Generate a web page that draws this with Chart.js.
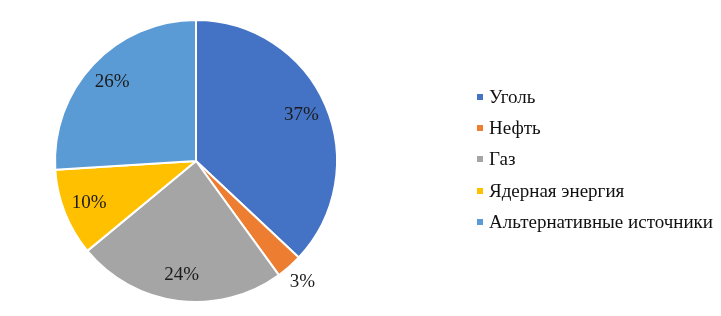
<!DOCTYPE html>
<html><head><meta charset="utf-8">
<script src="https://cdn.jsdelivr.net/npm/chart.js@4"></script>
<style>html,body{margin:0;padding:0;background:#fff}#wrap{width:721px;height:316px;position:relative}</style>
</head><body><div id="wrap"><canvas id="c" width="721" height="316"></canvas></div>
<script>
const categories = ['Уголь', 'Нефть', 'Газ', 'Ядерная энергия', 'Альтернативные источники'];
const shares = [37, 3, 24, 10, 26];
const colors = ['#4472C4', '#ED7D31', '#A5A5A5', '#FFC000', '#5B9BD5'];
const FONT = '"Liberation Serif","Times New Roman",serif';

const pctLabels = {
  id: 'pctLabels',
  afterDatasetsDraw(chart) {
    const ctx = chart.ctx;
    const meta = chart.getDatasetMeta(0);
    ctx.save();
    ctx.font = '19px ' + FONT;
    ctx.fillStyle = '#1b1b1b';
    ctx.textAlign = 'center';
    ctx.textBaseline = 'middle';
    meta.data.forEach((arc, i) => {
      const p = arc.getProps(['x', 'y', 'startAngle', 'endAngle', 'outerRadius'], true);
      const mid = (p.startAngle + p.endAngle) / 2;
      const f = shares[i] < 5 ? 1.14 : 0.815;
      ctx.fillText(shares[i] + '%', p.x + Math.cos(mid) * p.outerRadius * f, p.y + Math.sin(mid) * p.outerRadius * f);
    });
    ctx.restore();
  }
};

const sideLegend = {
  id: 'sideLegend',
  afterDraw(chart) {
    const ctx = chart.ctx;
    ctx.save();
    ctx.font = '19px ' + FONT;
    ctx.textBaseline = 'middle';
    ctx.textAlign = 'left';
    categories.forEach((name, i) => {
      const y = 97 + i * 31.2;
      ctx.fillStyle = colors[i];
      ctx.fillRect(477, Math.round(y) - 3, 6, 6);
      ctx.fillStyle = '#111';
      ctx.fillText(name, 489, y + 1);
    });
    ctx.restore();
  }
};

new Chart(document.getElementById('c'), {
  type: 'pie',
  data: {
    labels: categories,
    datasets: [{ data: shares, backgroundColor: colors, borderColor: '#ffffff', borderWidth: 2 }]
  },
  options: {
    responsive: false,
    animation: false,
    layout: { padding: { left: 54, right: 383, top: 19, bottom: 13 } },
    plugins: { legend: { display: false }, tooltip: { enabled: false } }
  },
  plugins: [pctLabels, sideLegend]
});
</script>
</body></html>
